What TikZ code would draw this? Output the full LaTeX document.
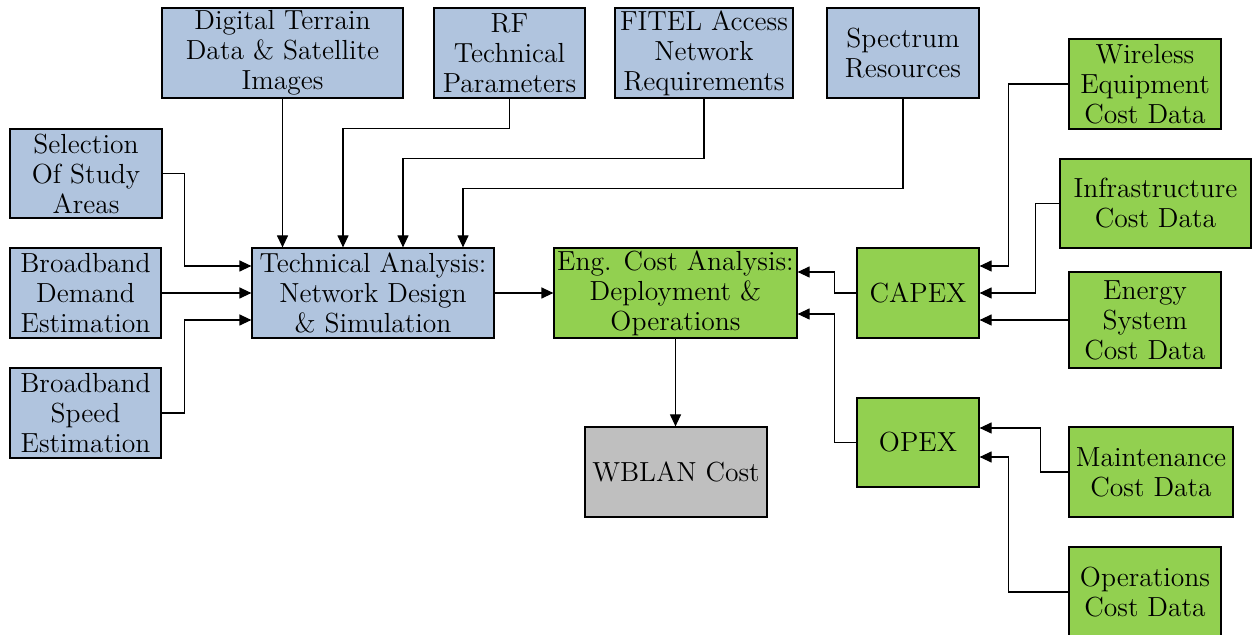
\documentclass[tikz,border=0pt]{standalone}
\usetikzlibrary{arrows.meta}
\definecolor{inblue}{RGB}{176,196,222}
\definecolor{costgreen}{RGB}{146,208,80}
\definecolor{outgray}{RGB}{191,191,191}
\begin{document}
\begin{tikzpicture}[x=0.5pt,y=-0.5pt,>={Triangle[length=6pt,width=5.5pt]},
  blk/.style={draw=black, line width=0.6pt, align=center, inner sep=0pt, font=\fontsize{13.8}{15}\selectfont},
  inbox/.style={blk, fill=inblue},
  costbox/.style={blk, fill=costgreen},
  outbox/.style={blk, fill=outgray},
  wire/.style={->, line width=0.6pt}]
\useasboundingbox (0,0) rectangle (1252,635);
% inputs, left and top
\node[inbox, minimum width=76pt, minimum height=44.5pt] (sel) at (86,173.5) {Selection\\Of Study\\Areas};
\node[inbox, minimum width=75.5pt, minimum height=45pt] (dem) at (85.5,293) {Broadband\\Demand\\Estimation};
\node[inbox, minimum width=75.5pt, minimum height=45pt] (spd) at (85.5,413) {Broadband\\Speed\\Estimation};
\node[inbox, minimum width=120.5pt, minimum height=45pt] (dtm) at (282.5,53) {Digital Terrain\\Data \& Satellite\\Images};
\node[inbox, minimum width=75.5pt, minimum height=45pt] (rf) at (509.5,53) {RF\\Technical\\Parameters};
\node[inbox, minimum width=89pt, minimum height=45pt] (fitel) at (704,53) {FITEL Access\\Network\\Requirements};
\node[inbox, minimum width=76pt, minimum height=45pt] (spec) at (903,53) {Spectrum\\Resources};
% analysis
\node[inbox, minimum width=121pt, minimum height=45pt] (tech) at (373,293) {Technical Analysis:\\Network Design\\\& Simulation};
\node[costbox, minimum width=121.5pt, minimum height=45pt] (eng) at (675.5,293) {Eng. Cost Analysis:\\Deployment \&\\Operations};
\node[outbox, minimum width=91pt, minimum height=45pt] (wblan) at (676,472) {WBLAN Cost};
\node[costbox, minimum width=61pt, minimum height=45pt] (capex) at (918,293) {CAPEX};
\node[costbox, minimum width=61pt, minimum height=44.5pt] (opex) at (918,442.5) {OPEX};
% cost data, right
\node[costbox, minimum width=76pt, minimum height=45pt] (wless) at (1145,84) {Wireless\\Equipment\\Cost Data};
\node[costbox, minimum width=95.5pt, minimum height=44.5pt] (infra) at (1155.5,203.5) {Infrastructure\\Cost Data};
\node[costbox, minimum width=76pt, minimum height=48pt] (energy) at (1145,320) {Energy\\System\\Cost Data};
\node[costbox, minimum width=82pt, minimum height=45pt] (maint) at (1151,472) {Maintenance\\Cost Data};
\node[costbox, minimum width=76pt, minimum height=45pt] (oper) at (1145,592) {Operations\\Cost Data};
% connectors
\draw[wire] (sel.east) -- ++(22,0) |- ([yshift=13.5pt]tech.west);
\draw[wire] (dem.east) -- (tech.west);
\draw[wire] (spd.east) -- ++(23,0) |- ([yshift=-13.5pt]tech.west);
\draw[wire] (dtm.south) -- (dtm.south |- tech.north);
\draw[wire] (rf.south) -- ++(0,30) -| ([xshift=-15pt]tech.north);
\draw[wire] (fitel.south) -- ++(0,60) -| ([xshift=15pt]tech.north);
\draw[wire] (spec.south) -- ++(0,90) -| ([xshift=45pt]tech.north);
\draw[wire] (tech.east) -- (eng.west);
\draw[wire] (eng.south) -- (eng.south |- wblan.north);
\draw[wire] (capex.west) -- ++(-22,0) |- ([yshift=10.5pt]eng.east);
\draw[wire] (opex.west) -- ++(-22,0) |- ([yshift=-10.5pt]eng.east);
\draw[wire] (wless.west) -- ++(-60,0) |- ([yshift=13.5pt]capex.east);
\draw[wire] (infra.west) -- ++(-24,0) |- (capex.east);
\draw[wire] (energy.west) -- (energy.west -| capex.east);
\draw[wire] (maint.west) -- ++(-28,0) |- ([yshift=7.25pt]opex.east);
\draw[wire] (oper.west) -- ++(-60,0) |- ([yshift=-7.25pt]opex.east);
\end{tikzpicture}
\end{document}
